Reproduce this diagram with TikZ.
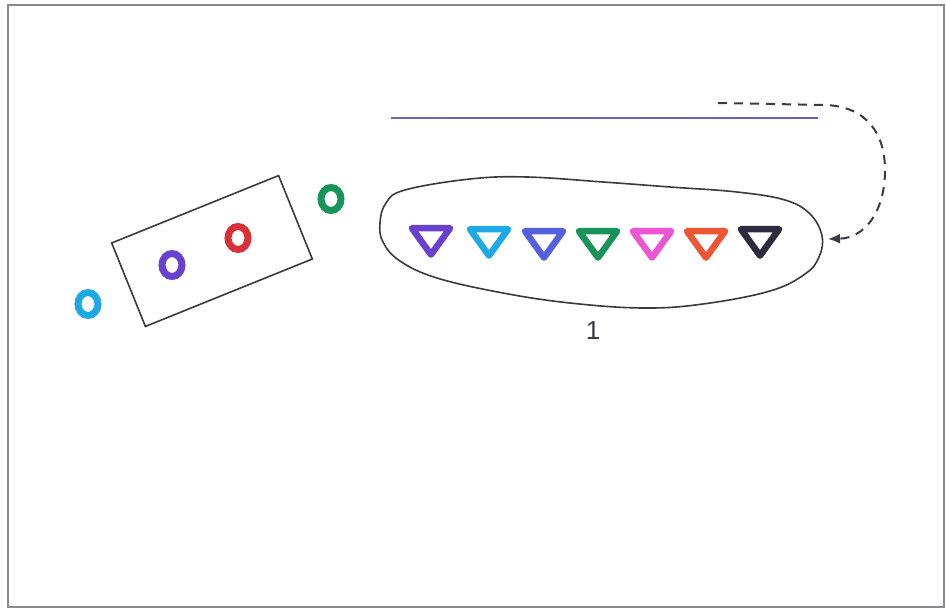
\documentclass[tikz,border=0pt]{standalone}
\usepackage{fontspec}
\newfontfamily\labelfont{Liberation Sans}
\usetikzlibrary{arrows.meta,shapes.geometric}
\definecolor{inkgray}{HTML}{3A3842}
\definecolor{framegray}{HTML}{8C8892}
\definecolor{lineviolet}{HTML}{7462B0}
\definecolor{lineteal}{HTML}{4E8E98}
\definecolor{lineblue}{HTML}{6A5CC8}
\definecolor{mcyan}{HTML}{1FA8E6}
\definecolor{mpurple}{HTML}{6A40CF}
\definecolor{mred}{HTML}{D9303A}
\definecolor{mgreen}{HTML}{17945A}
\definecolor{mblue}{HTML}{5560DE}
\definecolor{mmagenta}{HTML}{EE55D2}
\definecolor{morange}{HTML}{EE5532}
\definecolor{mblack}{HTML}{2E2A40}
\tikzset{>=Latex,
  ring/.style={ellipse,draw=#1,line width=7pt,minimum width=20pt,minimum height=23pt,inner sep=0pt},
  tri/.style={regular polygon,regular polygon sides=3,shape border rotate=180,draw=#1,
    line width=6.5pt,line join=round,minimum size=44pt,inner sep=0pt,yscale=.8},
  outline/.style={draw=inkgray,line width=1.6pt},
  dasharrow/.style={draw=inkgray,line width=2pt,dash pattern=on 9pt off 7pt,
    -{Latex[length=12pt,width=10pt]}}}
\begin{document}
\begin{tikzpicture}[x=1pt,y=-1pt]
\useasboundingbox(0,0)rectangle(946,610);
\draw[draw=framegray,line width=1.6pt](8,5)rectangle(944,607);
\node[outline,rectangle,minimum width=180pt,minimum height=90pt,rotate=22](bag)at(212,251){};
\foreach \x/\y/\c [count=\i] in {88/304/mcyan,172/265/mpurple,238/238/mred,331/199/mgreen}
  \node[ring=\c](ring\i)at(\x,\y){};
\shade[left color=lineviolet,middle color=lineteal,right color=lineblue](391,117.4)rectangle(818,119);
\draw[outline]plot[smooth cycle,tension=.65]coordinates{(380,223)(386,203)(405,190)(470,179)(527,177)
  (603,182)(670,187)(737,192)(785,200)(810,214)(822,236)(819,257)(805,274)(770,291)(703,304)
  (643,308)(570,303)(503,293)(437,278)(400,261)(383,242)};
\foreach \x/\y/\c [count=\i] in {431/237/mpurple,489/238/mcyan,544/240/mblue,598/240/mgreen,
  652/240/mmagenta,706/240/morange,760/238/mblack}
  \node[tri=\c](tri\i)at(\x,\y){};
\node[font=\labelfont\fontsize{26}{26}\selectfont,text=inkgray](grouplabel)at(593,331){1};
\coordinate(dashstart)at(718,103);\coordinate(tip)at(828,239);
\draw[dasharrow](dashstart)--(826,105)..controls(868,107)and(885,135)..(885,170)
  ..controls(885,210)and(866,238)..(tip);
\end{tikzpicture}
\end{document}
